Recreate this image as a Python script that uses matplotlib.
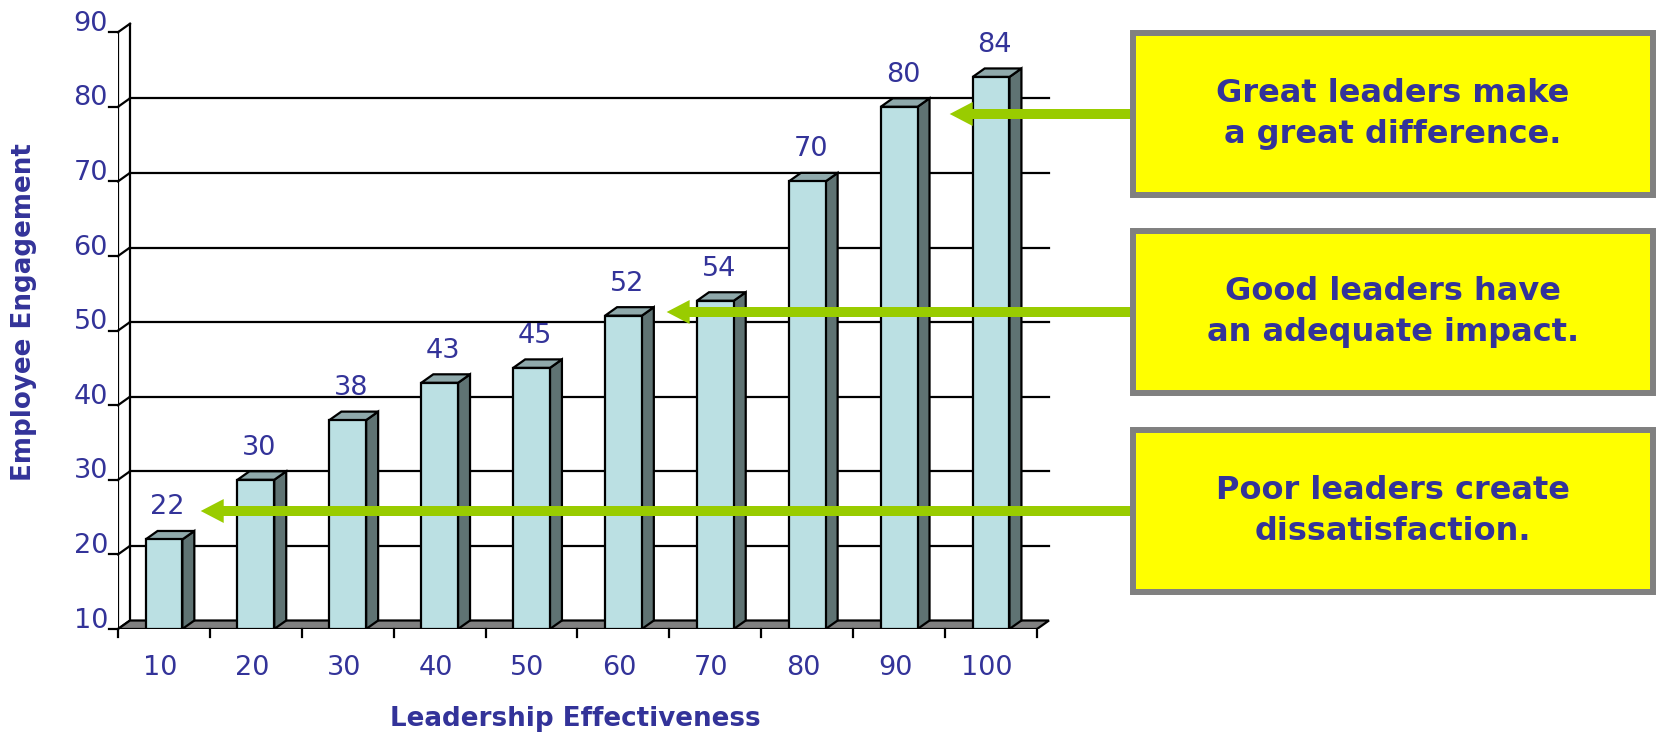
import matplotlib
matplotlib.use('Agg')
import matplotlib.pyplot as plt
from matplotlib.patches import Polygon, Rectangle, FancyArrow

# data
categories = ['10', '20', '30', '40', '50', '60', '70', '80', '90', '100']
engagement = [22, 30, 38, 43, 45, 52, 54, 70, 80, 84]
y_ticks = [10, 20, 30, 40, 50, 60, 70, 80, 90]
y_grid = [20, 30, 40, 50, 60, 70, 80]
callouts = ['Great leaders make\na great difference.',
            'Good leaders have\nan adequate impact.',
            'Poor leaders create\ndissatisfaction.']
callout_tip_cat = [9.05, 5.97, 0.90]   # where each arrow points (category units)

W, H = 1658, 733
TXT = '#333399'
GREEN = '#99CC00'
plt.rcParams['font.family'] = ['DejaVu Sans']

fig = plt.figure(figsize=(W / 100, H / 100), dpi=100)

# chart axes: x in category slots (0..10), y in engagement units
sx, sy = 91.9, 7.46          # pixels per unit
x0px, y10px = 118, 629       # pixel of x=0 and y=10
xmin, xmax, ymin, ymax = 0, 10.5, 10, 92
ax = fig.add_axes([x0px / W, (H - y10px) / H, (xmax - xmin) * sx / W, (ymax - ymin) * sy / H])
ax.set_xlim(xmin, xmax)
ax.set_ylim(ymin, ymax)
ax.axis('off')

ddx, ddy = 12 / sx, 8.5 / sy   # 3d depth offset
n = len(categories)
lw = 1.6
fs = 19.5

# back wall gridlines and left wall
for v in y_grid:
    ax.plot([ddx, n + ddx], [v + ddy, v + ddy], color='black', lw=lw, zorder=1)
for v in y_ticks:
    ax.plot([0, ddx], [v, v + ddy], color='black', lw=lw, zorder=1, clip_on=False)
    ax.plot([-0.1, 0], [v, v], color='black', lw=lw, zorder=1, clip_on=False)
    ax.text(-0.11, v + 0.2, str(v), ha='right', va='baseline', fontsize=fs, color=TXT)
ax.plot([0, 0], [10, 90], color='black', lw=lw, zorder=1)
ax.plot([ddx, ddx], [10 + ddy, 90 + ddy], color='black', lw=lw, zorder=1, clip_on=False)

# floor
floor = Polygon([(0, 10), (n, 10), (n + ddx, 10 + ddy), (ddx, 10 + ddy)],
                closed=True, facecolor='#808080', edgecolor='black', lw=lw, zorder=2)
ax.add_patch(floor)
for i in range(n + 1):
    ax.plot([i, i], [10, 10 - 1.07], color='black', lw=lw, clip_on=False)

# bars
off, bw = 0.30, 0.40
for i, v in enumerate(engagement):
    xa, xb = i + off, i + off + bw
    side = Polygon([(xb, 10), (xb + ddx, 10 + ddy), (xb + ddx, v + ddy), (xb, v)],
                   closed=True, facecolor='#5F7373', edgecolor='black', lw=lw, zorder=3)
    top = Polygon([(xa, v), (xb, v), (xb + ddx, v + ddy), (xa + ddx, v + ddy)],
                  closed=True, facecolor='#8FA9AB', edgecolor='black', lw=lw, zorder=3)
    front = Rectangle((xa, 10), bw, v - 10, facecolor='#BBE0E3', edgecolor='black', lw=lw, zorder=3)
    ax.add_patch(side)
    ax.add_patch(top)
    ax.add_patch(front)
    ax.text(i + 0.54, v + 3.35, str(v), ha='center', va='baseline', fontsize=fs, color=TXT, zorder=4)
    ax.text(i + 0.455, 3.77, categories[i], ha='center', va='baseline', fontsize=fs, color=TXT)

# axis titles
fig.text(24 / W, 1 - 312 / H, 'Employee Engagement', rotation=90, ha='center', va='center',
         fontsize=18.8, fontweight='bold', color=TXT)
fig.text(575 / W, 1 - 719 / H, 'Leadership Effectiveness', ha='center', va='center',
         fontsize=18.8, fontweight='bold', color=TXT)

# overlay in pixel coordinates for callout boxes and arrows
ov = fig.add_axes([0, 0, 1, 1])
ov.set_xlim(0, W)
ov.set_ylim(H, 0)
ov.axis('off')

box_left, box_right = 1130, 1656
box_tops = [30, 228, 427]
box_h = 168
for txt, top, tip in zip(callouts, box_tops, callout_tip_cat):
    ov.add_patch(Rectangle((box_left + 3, top + 3), box_right - box_left - 6, box_h - 6,
                           facecolor='#FFFF00', edgecolor='#808080', lw=4.3, zorder=2))
    cy = top + box_h / 2
    ov.text((box_left + box_right) / 2, cy, txt, ha='center', va='center', fontsize=23,
            fontweight='bold', color=TXT, linespacing=1.38, zorder=3)
    tip_px = x0px + tip * sx
    ov.add_patch(FancyArrow(box_left + 2, cy, tip_px - box_left - 2, 0, width=10, head_width=24,
                            head_length=23, length_includes_head=True, color=GREEN, lw=0, zorder=1))

fig.savefig('out.png', dpi=100)
